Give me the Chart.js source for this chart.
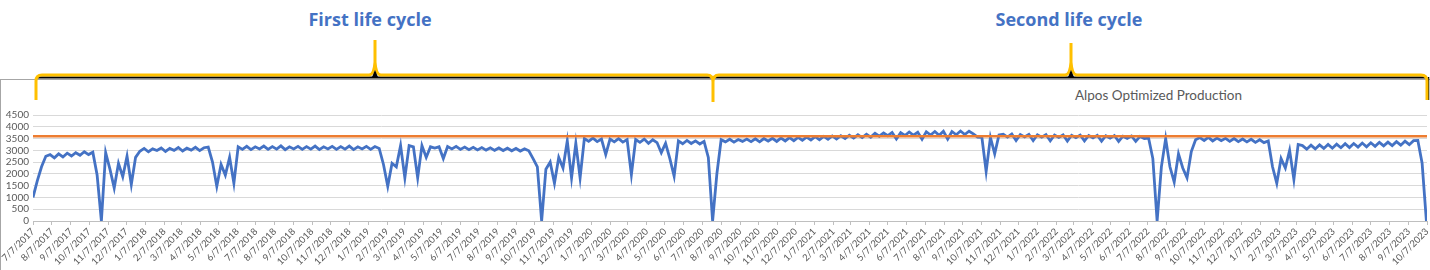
<!DOCTYPE html>
<html>
<head>
<meta charset="utf-8">
<script src="https://cdn.jsdelivr.net/npm/chart.js@4.4.1/dist/chart.umd.min.js"></script>
<style>
  body { margin: 0; width: 1430px; height: 270px; overflow: hidden; background: #fff; position: relative; font-family: Lato, sans-serif; }
  .cycle { position: absolute; top: 7px; font: bold 18px "Open Sans", sans-serif; color: #4472C4; transform: translateX(-50%); white-space: nowrap; }
  #frame { position: absolute; left: 0; top: 79px; width: 1440px; height: 200px; border-left: 1px solid #a6a6a6; border-top: 1px solid #a6a6a6; }
  #chartTitle { position: absolute; left: 1075px; top: 87px; font-size: 13.5px; color: #595959; white-space: nowrap; }
  #wrap { position: absolute; left: 0; top: 80px; width: 1430px; height: 190px; }
  svg { position: absolute; left: 0; top: 0; }
</style>
</head>
<body>
<div id="frame"></div>
<div class="cycle" style="left:370px">First life cycle</div>
<div class="cycle" style="left:1069px">Second life cycle</div>
<svg width="1430" height="110">
  <path d="M37,77.5 L1427,77.5" stroke="#000" stroke-width="2" fill="none"/>
  <path d="M1428.5,77 L1428.5,100" stroke="#000" stroke-width="1.5" fill="none"/>
  <path d="M36,100 L36,81 Q36,75 42,75 L369,75 Q374,75 375,62 L375,40 M375,62 Q376,75 381,75 L707,75 Q713,75 713,82 L713,102 M713,82 Q713,75 719,75 L1065,75 Q1070,75 1071,62 L1071,43 M1071,62 Q1072,75 1077,75 L1421,75 Q1427,75 1427,81 L1427,100"
        stroke="#FFC000" stroke-width="3" fill="none"/>
  <polygon points="372,77 378,77 375,70" fill="#000"/>
  <polygon points="1068,77 1074,77 1071,70" fill="#000"/>
</svg>
<div id="chartTitle">Alpos Optimized Production</div>
<div id="wrap"><canvas id="prodChart" width="1430" height="190"></canvas></div>
<script>
// month ticks on the date axis
const monthLabels = [
  '7/7/2017', '8/7/2017', '9/7/2017', '10/7/2017', '11/7/2017', '12/7/2017',
  '1/7/2018', '2/7/2018', '3/7/2018', '4/7/2018', '5/7/2018', '6/7/2018',
  '7/7/2018', '8/7/2018', '9/7/2018', '10/7/2018', '11/7/2018', '12/7/2018',
  '1/7/2019', '2/7/2019', '3/7/2019', '4/7/2019', '5/7/2019', '6/7/2019',
  '7/7/2019', '8/7/2019', '9/7/2019', '10/7/2019', '11/7/2019', '12/7/2019',
  '1/7/2020', '2/7/2020', '3/7/2020', '4/7/2020', '5/7/2020', '6/7/2020',
  '7/7/2020', '8/7/2020', '9/7/2020', '10/7/2020', '11/7/2020', '12/7/2020',
  '1/7/2021', '2/7/2021', '3/7/2021', '4/7/2021', '5/7/2021', '6/7/2021',
  '7/7/2021', '8/7/2021', '9/7/2021', '10/7/2021', '11/7/2021', '12/7/2021',
  '1/7/2022', '2/7/2022', '3/7/2022', '4/7/2022', '5/7/2022', '6/7/2022',
  '7/7/2022', '8/7/2022', '9/7/2022', '10/7/2022', '11/7/2022', '12/7/2022',
  '1/7/2023', '2/7/2023', '3/7/2023', '4/7/2023', '5/7/2023', '6/7/2023',
  '7/7/2023', '8/7/2023', '9/7/2023', '10/7/2023'
];

const yTicks = [0, 500, 1000, 1500, 2000, 2500, 3000, 3500, 4000, 4500];

// optimized production target (orange line)
const targetLevel = 3600;

// production, one reading per week starting 7/7/2017
const weeklyOutput = [
  // start-up and first plateau
  1000, 1700, 2300, 2750, 2820, 2680, 2850, 2720, 2880, 2760, 2900, 2790, 2940, 2820, 2920,
  // stop in 11/2017
  1950, 0, 2900, 2200, 1400, 2450, 1880, 2750, 1550, 2700,
  2960, 3080, 2940, 3060, 2990, 3100, 2950, 3080, 3000, 3120, 2970, 3090, 3010, 3130, 2990, 3110, 3140,
  // 5/2018 dips
  2500, 1470, 2400, 1950, 2700, 1600,
  3150, 3040, 3170, 3030, 3150, 3060, 3180, 3040, 3160, 3050, 3190, 3030, 3150, 3060, 3170, 3040, 3160,
  3050, 3180, 3030, 3150, 3060, 3170, 3040, 3160, 3050, 3180, 3030, 3150, 3060, 3170, 3040, 3160, 3080,
  // 2/2019 dips
  2400, 1470, 2450, 2300, 3200, 1830, 3200, 3150, 1830, 3200, 2700, 3150, 3100, 3150, 2650,
  3160, 3060, 3170, 3040, 3140, 3030, 3130, 3020, 3120, 3010, 3110, 3000, 3100, 2990, 3090, 2980, 3080, 2970, 3060, 2980,
  // stop in 10/2019
  2650, 2300, 0, 2200, 2500, 1600, 2700, 2250, 3400, 1830, 3300, 1830,
  3500, 3380, 3520, 3370, 3480, 2820, 3480, 3360, 3500, 3350, 3460, 1970,
  3460, 3340, 3480, 3300, 3450, 3330, 2900, 3300, 2650, 1900,
  3400, 3280, 3420, 3290, 3400, 3270, 3380,
  // end of first life cycle
  2700, 0, 2000,
  // second life cycle
  3450, 3360, 3470, 3350, 3460, 3380, 3480, 3370, 3490, 3360, 3500, 3390,
  3510, 3380, 3520, 3400, 3540, 3410, 3550, 3430, 3560, 3440, 3580, 3450,
  3590, 3470, 3610, 3480, 3620, 3500, 3640, 3520, 3660, 3540, 3680, 3560,
  3720, 3600, 3740, 3620, 3760, 3480, 3750, 3630, 3780, 3640, 3770, 3470,
  3790, 3650, 3800, 3640, 3810, 3480, 3800, 3660, 3820, 3670, 3810, 3700,
  // 10/2021 dips
  3560, 3550, 2100, 3550, 2850, 3650,
  3680, 3560, 3690, 3420, 3670, 3570, 3680, 3410, 3660, 3560, 3670, 3400, 3650, 3550, 3660, 3390, 3640, 3540,
  3650, 3400, 3630, 3530, 3640, 3390, 3620, 3520, 3630, 3380, 3600, 3510, 3610, 3380, 3590, 3500, 3520,
  // stop in 6/2022
  2650, 0, 2300, 3500, 2300, 1650, 2850, 2250, 1830, 2950, 3450,
  3540, 3420, 3550, 3400, 3520, 3410, 3510, 3380, 3500, 3370, 3480, 3360, 3470, 3340, 3450, 3330, 3400,
  // 1/2023 dips
  2300, 1600, 2650, 2250, 3000, 1760, 3250,
  3200, 3050, 3220, 3060, 3230, 3080, 3250, 3090, 3260, 3110, 3280, 3120, 3290, 3140,
  3310, 3150, 3320, 3170, 3340, 3190, 3350, 3200, 3370, 3220, 3390, 3240, 3410, 3420,
  2450, 0
];

const startUtc = Date.UTC(2017, 6, 7);
function dayOf(label) {
  const [m, d, y] = label.split('/').map(Number);
  return (Date.UTC(y, m - 1, d) - startUtc) / 86400000;
}
const tickDays = monthLabels.map(dayOf);
const lastDay = tickDays[tickDays.length - 1];

const ctx = document.getElementById('prodChart').getContext('2d');
const prodChart = new Chart(ctx, {
  type: 'line',
  data: {
    datasets: [{
      label: 'Target',
      data: [{ x: 0, y: targetLevel }, { x: lastDay, y: targetLevel }],
      borderColor: '#ED7D31',
      borderWidth: 2.5,
      pointRadius: 0,
      order: 0
    }, {
      label: 'Alpos Optimized Production',
      data: weeklyOutput.map((v, i) => ({ x: i * 7, y: v })),
      borderColor: '#4472C4',
      borderWidth: 2.8,
      pointRadius: 0,
      tension: 0,
      order: 1
    }]
  },
  options: {
    responsive: false,
    animation: false,
    devicePixelRatio: 1,
    layout: { padding: { top: 35, right: 3, left: 0, bottom: 0 } },
    plugins: { legend: { display: false }, tooltip: { enabled: false } },
    scales: {
      x: {
        type: 'linear',
        min: 0,
        max: lastDay,
        afterBuildTicks: s => { s.ticks = tickDays.map(v => ({ value: v })); },
        afterFit: s => { s.height = 49; s.paddingLeft = 0; s.paddingRight = 0; },
        ticks: {
          autoSkip: false,
          minRotation: 45,
          maxRotation: 45,
          padding: 1,
          color: '#595959',
          font: { family: 'Lato', size: 9.5 },
          callback: (v, i) => monthLabels[i]
        },
        grid: { drawOnChartArea: false, drawTicks: true, tickLength: 4, color: '#bfbfbf' },
        border: { display: true, color: '#bfbfbf' }
      },
      y: {
        min: yTicks[0],
        max: yTicks[yTicks.length - 1],
        afterBuildTicks: s => { s.ticks = yTicks.map(v => ({ value: v })); },
        afterFit: s => { s.width = 33; },
        ticks: {
          autoSkip: false,
          padding: 4,
          color: '#595959',
          font: { family: 'Lato', size: 10 },
          callback: v => String(v)
        },
        grid: { color: '#d9d9d9', drawTicks: false },
        border: { display: false }
      }
    }
  }
});
</script>
</body>
</html>
